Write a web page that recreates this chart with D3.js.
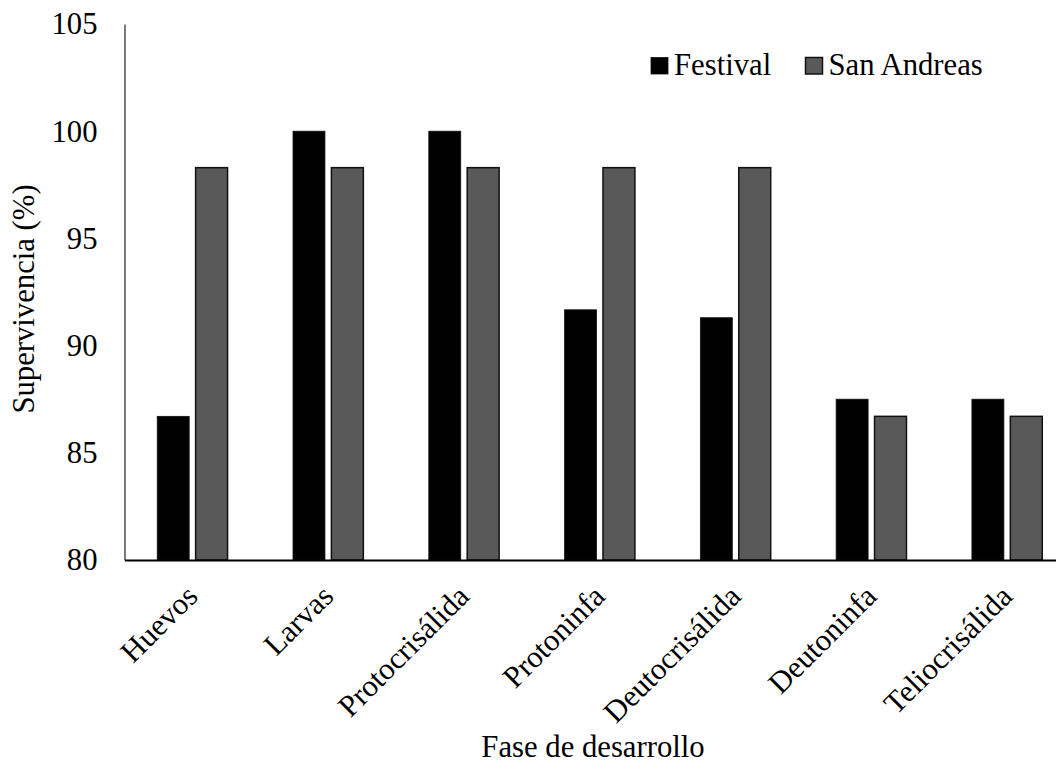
<!DOCTYPE html>
<html>
<head>
<meta charset="utf-8">
<script src="https://cdn.jsdelivr.net/npm/d3@7"></script>
<style>
  html, body { margin: 0; padding: 0; background: #fff; }
  svg { display: block; }
  svg text { font-family: "Times New Roman", Times, "Liberation Serif", "DejaVu Serif", serif; fill: #000; }
</style>
</head>
<body>
<svg id="chart" width="1056" height="769"></svg>
<script>
// Survival (%) per developmental stage for two strawberry varieties
const categories = ["Huevos", "Larvas", "Protocrisálida", "Protoninfa", "Deutocrisálida", "Deutoninfa", "Teliocrisálida"];
const seriesNames = ["Festival", "San Andreas"];
const festival = [86.7, 100, 100, 91.67, 91.3, 87.5, 87.5];
const sanAndreas = [98.3, 98.3, 98.3, 98.3, 98.3, 86.7, 86.7];
const yTicks = [80, 85, 90, 95, 100, 105];
const colors = ["#000000", "#595959"];

const serif = '"Times New Roman", Times, "Liberation Serif", "DejaVu Serif", serif';
const svg = d3.select("#chart");
const fontSize = 30.7;

const plotLeft = 124.5, plotRight = 1075, plotTop = 24, plotBottom = 560;

const x0 = d3.scaleBand().domain(categories).range([plotLeft, plotRight]).padding(0);
const x1 = d3.scaleBand().domain(seriesNames)
  .range([x0.bandwidth() * 0.241, x0.bandwidth() * 0.759])
  .paddingInner(0.168).paddingOuter(0);
const y = d3.scaleLinear().domain([80, 105]).range([plotBottom, plotTop]);

const values = [festival, sanAndreas];

// Bars
const groups = svg.append("g").selectAll("g")
  .data(categories)
  .join("g")
  .attr("transform", d => `translate(${x0(d)},0)`);

groups.selectAll("rect")
  .data((d, i) => seriesNames.map((s, k) => ({ s, k, v: values[k][i] })))
  .join("rect")
  .attr("x", d => x1(d.s))
  .attr("width", x1.bandwidth())
  .attr("y", d => y(d.v))
  .attr("height", d => y(80) - y(d.v))
  .attr("fill", d => colors[d.k])
  .attr("stroke", "#111")
  .attr("stroke-width", d => d.k === 0 ? 0.8 : 1.5);

// Y axis
const yAxis = d3.axisLeft(y).tickValues(yTicks).tickSize(0).tickPadding(27).tickFormat(d3.format("d"));
const gy = svg.append("g").attr("transform", `translate(${plotLeft},0)`).call(yAxis)
  .attr("font-family", serif).attr("font-size", fontSize);
gy.select(".domain").attr("stroke", "#222").attr("stroke-width", 1.2);
gy.selectAll("text").attr("fill", "#000");

// X axis
const xAxis = d3.axisBottom(x0).tickSize(0).tickFormat("");
const gx = svg.append("g").attr("transform", `translate(0,${plotBottom})`).call(xAxis);
gx.select(".domain").attr("stroke", "#000").attr("stroke-width", 2);

// Rotated category labels
svg.append("g").attr("font-family", serif).selectAll("text")
  .data(categories)
  .join("text")
  .attr("transform", d => `translate(${x0(d) + x0.bandwidth() / 2 + 7},${plotBottom + 38}) rotate(-45)`)
  .attr("text-anchor", "end")
  .attr("font-size", fontSize)
  .text(d => d);

// Axis titles
svg.append("text")
  .attr("x", 593).attr("y", 757)
  .attr("text-anchor", "middle")
  .attr("font-family", serif)
  .attr("font-size", fontSize)
  .text("Fase de desarrollo");

svg.append("text")
  .attr("transform", `translate(34,299) rotate(-90)`)
  .attr("text-anchor", "middle")
  .attr("font-family", serif)
  .attr("font-size", fontSize)
  .text("Supervivencia (%)");

// Legend
const legendItems = [
  { name: seriesNames[0], color: colors[0], x: 651 },
  { name: seriesNames[1], color: colors[1], x: 805.5 }
];
const lg = svg.append("g").attr("font-family", serif);
legendItems.forEach((it, k) => {
  lg.append("rect")
    .attr("x", it.x).attr("y", 57.5)
    .attr("width", 17).attr("height", 16.5)
    .attr("fill", it.color)
    .attr("stroke", "#111").attr("stroke-width", k === 0 ? 0.8 : 1.5);
  lg.append("text")
    .attr("x", it.x + 23).attr("y", 74.5)
    .attr("font-size", fontSize)
    .text(it.name);
});
</script>
</body>
</html>
